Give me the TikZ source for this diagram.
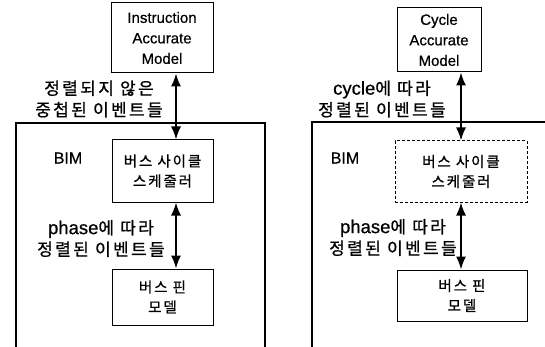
\documentclass[tikz,border=0pt]{standalone}
\usepackage{fontspec}
\setmainfont{Liberation Sans}[FakeBold=0.6]
\newfontfamily\kr{Noto Sans CJK KR}[FakeBold=0.8,LetterSpace=13]
\newfontfamily\krsp{Noto Sans CJK KR}[FakeBold=0.8,LetterSpace=14]
\newcommand{\lat}[1]{{\rmfamily\fontsize{18.5}{21.5}\selectfont #1}}
\usetikzlibrary{arrows.meta}
\tikzset{
  box/.style={draw, line width=1pt, align=center, inner sep=0pt, font=\fontsize{15}{20.5}\selectfont},
  kbox/.style={box, font=\fontsize{14.5}{20}\selectfont\kr},
  dbox/.style={kbox, dashed, dash pattern=on 3pt off 2pt},
  frame/.style={line width=1.5pt},
  arr/.style={line width=1.6pt, {Latex[length=13pt,width=10pt]}-{Latex[length=13pt,width=10pt]}},
  lab/.style={align=center, inner sep=0pt, font=\fontsize{17}{21.5}\selectfont\krsp},
  bim/.style={inner sep=0pt, font=\fontsize{16}{18}\selectfont}
}
\begin{document}
\begin{tikzpicture}[x=1pt,y=-1pt]
\useasboundingbox (0,0) rectangle (545,347);
% ---- left panel ----
\node[box, minimum width=102pt, minimum height=70pt] (lt) at (162,38) {Instruction\\Accurate\\Model};
\draw[frame] (16,350) -- (16,123) -- (265,123) -- (265,350);
\node[bim] (lbim) at (68,158) {BIM};
\node[kbox, minimum width=101pt, minimum height=62pt] (ls) at (162.5,171) {버스 사이클\\스케줄러};
\node[kbox, minimum width=101pt, minimum height=56pt] (lp) at (162.5,297) {버스 핀\\모델};
\coordinate (la) at (176,0);
\draw[arr] (la |- lt.south) -- (la |- ls.north);
\draw[arr] (la |- ls.south) -- (la |- lp.north);
\node[lab] (l1) at (99,99) {정렬되지 않은\\중첩된 이벤트들};
\node[lab] (l2) at (101,238.5) {\lat{phase}에 따라\\정렬된 이벤트들};
% ---- right panel ----
\node[box, minimum width=84pt, minimum height=64pt] (rt) at (439,40) {Cycle\\Accurate\\Model};
\draw[frame] (312,350) -- (312,122) -- (550,122);
\node[bim] (rbim) at (345,158) {BIM};
\node[dbox, minimum width=132pt, minimum height=61pt] (rs) at (461,171.5) {버스 사이클\\스케줄러};
\node[kbox, minimum width=130pt, minimum height=51pt] (rp) at (462,295.5) {버스 핀\\모델};
\coordinate (ra) at (461,0);
\draw[arr] (ra |- rt.south) -- (ra |- rs.north);
\draw[arr] (ra |- rs.south) -- (ra |- rp.north);
\node[lab] (r1) at (382,99) {\lat{cycle}에 따라\\정렬된 이벤트들};
\node[lab] (r2) at (393,237.5) {\lat{phase}에 따라\\정렬된 이벤트들};
\end{tikzpicture}
\end{document}
